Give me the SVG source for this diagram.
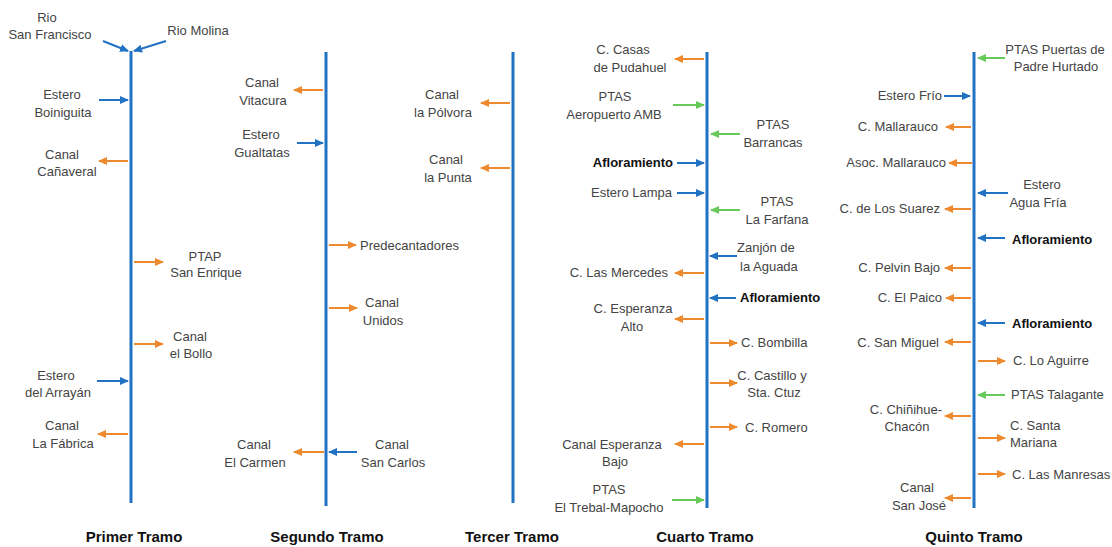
<svg xmlns="http://www.w3.org/2000/svg" width="1112" height="547" viewBox="0 0 1112 547">
<style>
.t{font-family:"Liberation Sans",Arial,sans-serif;font-size:13px;fill:#444}
.c{text-anchor:middle}
.e{text-anchor:end}
.b{font-weight:bold;fill:#111}
.h{font-family:"Liberation Sans",Arial,sans-serif;font-size:15px;font-weight:bold;fill:#111;text-anchor:middle}
.r{stroke:#2272c3;stroke-width:3;fill:none}
.ab{stroke:#2272c3;stroke-width:2;fill:none;marker-end:url(#mb)}
.ao{stroke:#ed8a2f;stroke-width:2;fill:none;marker-end:url(#mo)}
.ag{stroke:#66c95a;stroke-width:2;fill:none;marker-end:url(#mg)}
</style>
<defs>
<marker id="mb" markerUnits="userSpaceOnUse" markerWidth="9" markerHeight="8" refX="8" refY="4" orient="auto"><path d="M0,0 L9,4 L0,8 z" fill="#2272c3"/></marker>
<marker id="mo" markerUnits="userSpaceOnUse" markerWidth="9" markerHeight="8" refX="8" refY="4" orient="auto"><path d="M0,0 L9,4 L0,8 z" fill="#ed8a2f"/></marker>
<marker id="mg" markerUnits="userSpaceOnUse" markerWidth="9" markerHeight="8" refX="8" refY="4" orient="auto"><path d="M0,0 L9,4 L0,8 z" fill="#66c95a"/></marker>
</defs>
<rect width="1112" height="547" fill="#fff"/>

<g id="rivers">
<line class="r" x1="131" y1="51" x2="131" y2="503"/>
<line class="r" x1="326" y1="52" x2="326" y2="506"/>
<line class="r" x1="513" y1="52" x2="513" y2="503"/>
<line class="r" x1="707" y1="52" x2="707" y2="508"/>
<line class="r" x1="974" y1="52" x2="974" y2="508"/>
</g>

<g id="connectors">
<line class="ab" x1="103" y1="41" x2="128" y2="51"/>
<line class="ab" x1="166" y1="41" x2="134" y2="51"/>
<line class="ab" x1="99" y1="100" x2="128" y2="100"/>
<line class="ao" x1="128" y1="161" x2="99" y2="161"/>
<line class="ao" x1="134" y1="262" x2="163" y2="262"/>
<line class="ao" x1="134" y1="344" x2="163" y2="344"/>
<line class="ab" x1="97" y1="381" x2="128" y2="381"/>
<line class="ao" x1="128" y1="434" x2="98" y2="434"/>

<line class="ao" x1="323" y1="90" x2="294" y2="90"/>
<line class="ab" x1="297" y1="143" x2="323" y2="143"/>
<line class="ao" x1="329" y1="245" x2="356" y2="245"/>
<line class="ao" x1="329" y1="308" x2="357" y2="308"/>
<line class="ao" x1="324" y1="452" x2="294" y2="452"/>
<line class="ab" x1="357" y1="452" x2="329" y2="452"/>

<line class="ao" x1="510" y1="103" x2="481" y2="103"/>
<line class="ao" x1="510" y1="168" x2="481" y2="168"/>

<line class="ao" x1="704" y1="59" x2="675" y2="59"/>
<line class="ag" x1="673" y1="105" x2="704" y2="105"/>
<line class="ag" x1="740" y1="134" x2="711" y2="134"/>
<line class="ab" x1="677" y1="163" x2="704" y2="163"/>
<line class="ab" x1="677" y1="193" x2="704" y2="193"/>
<line class="ag" x1="740" y1="210" x2="711" y2="210"/>
<line class="ab" x1="737" y1="256" x2="710" y2="256"/>
<line class="ao" x1="704" y1="273" x2="675" y2="273"/>
<line class="ab" x1="736" y1="298" x2="710" y2="298"/>
<line class="ao" x1="704" y1="319" x2="675" y2="319"/>
<line class="ao" x1="710" y1="343" x2="737" y2="343"/>
<line class="ao" x1="710" y1="383" x2="737" y2="383"/>
<line class="ao" x1="710" y1="427" x2="737" y2="427"/>
<line class="ao" x1="704" y1="444" x2="675" y2="444"/>
<line class="ag" x1="672" y1="500" x2="704" y2="500"/>

<line class="ag" x1="1005" y1="58" x2="978" y2="58"/>
<line class="ab" x1="944" y1="96" x2="970" y2="96"/>
<line class="ao" x1="971" y1="127" x2="946" y2="127"/>
<line class="ao" x1="972" y1="163" x2="949" y2="163"/>
<line class="ab" x1="1008" y1="193" x2="978" y2="193"/>
<line class="ao" x1="971" y1="209" x2="945" y2="209"/>
<line class="ab" x1="1005" y1="238" x2="978" y2="238"/>
<line class="ao" x1="971" y1="268" x2="945" y2="268"/>
<line class="ao" x1="971" y1="298" x2="946" y2="298"/>
<line class="ab" x1="1005" y1="323" x2="978" y2="323"/>
<line class="ao" x1="971" y1="342" x2="945" y2="342"/>
<line class="ao" x1="978" y1="361" x2="1005" y2="361"/>
<line class="ag" x1="1005" y1="395" x2="978" y2="395"/>
<line class="ao" x1="971" y1="416" x2="945" y2="416"/>
<line class="ao" x1="978" y1="438" x2="1005" y2="438"/>
<line class="ao" x1="978" y1="474" x2="1005" y2="474"/>
<line class="ao" x1="971" y1="498" x2="945" y2="498"/>
</g>

<!-- Primer Tramo -->
<g id="rio-san-francisco"><text class="t c" x="47" y="22">Rio</text><text class="t c" x="50" y="39">San Francisco</text></g>
<g id="rio-molina"><text class="t c" x="198" y="35">Rio Molina</text></g>
<g id="estero-boiniguita"><text class="t c" x="62" y="99">Estero</text><text class="t c" x="63" y="117">Boiniguita</text></g>
<g id="canal-canaveral"><text class="t c" x="62" y="159">Canal</text><text class="t c" x="67" y="176">Cañaveral</text></g>
<g id="ptap-san-enrique"><text class="t c" x="205" y="261">PTAP</text><text class="t c" x="206" y="277">San Enrique</text></g>
<g id="canal-el-bollo"><text class="t c" x="190" y="341">Canal</text><text class="t c" x="191" y="358">el Bollo</text></g>
<g id="estero-del-arrayan"><text class="t c" x="56" y="380">Estero</text><text class="t c" x="58" y="397">del Arrayán</text></g>
<g id="canal-la-fabrica"><text class="t c" x="62" y="430">Canal</text><text class="t c" x="63" y="448">La Fábrica</text></g>
<g id="primer-tramo"><text class="h" x="134" y="542">Primer Tramo</text></g>

<!-- Segundo Tramo -->
<g id="canal-vitacura"><text class="t c" x="262" y="87">Canal</text><text class="t c" x="263" y="105">Vitacura</text></g>
<g id="estero-gualtatas"><text class="t c" x="261" y="139">Estero</text><text class="t c" x="262" y="157">Gualtatas</text></g>
<g id="predecantadores"><text class="t" x="360" y="250">Predecantadores</text></g>
<g id="canal-unidos"><text class="t c" x="382" y="307">Canal</text><text class="t c" x="383" y="325">Unidos</text></g>
<g id="canal-el-carmen"><text class="t c" x="254" y="449">Canal</text><text class="t c" x="255" y="467">El Carmen</text></g>
<g id="canal-san-carlos"><text class="t c" x="392" y="449">Canal</text><text class="t c" x="393" y="467">San Carlos</text></g>
<g id="segundo-tramo"><text class="h" x="327" y="542">Segundo Tramo</text></g>

<!-- Tercer Tramo -->
<g id="canal-la-polvora"><text class="t c" x="442" y="99">Canal</text><text class="t c" x="443" y="117">la Pólvora</text></g>
<g id="canal-la-punta"><text class="t c" x="446" y="164">Canal</text><text class="t c" x="448" y="182">la Punta</text></g>
<g id="tercer-tramo"><text class="h" x="512" y="542">Tercer Tramo</text></g>

<!-- Cuarto Tramo -->
<g id="c-casas-de-pudahuel"><text class="t c" x="623" y="54">C. Casas</text><text class="t c" x="630" y="72">de Pudahuel</text></g>
<g id="ptas-aeropuerto-amb"><text class="t c" x="615" y="101">PTAS</text><text class="t c" x="614" y="119">Aeropuerto AMB</text></g>
<g id="ptas-barrancas"><text class="t c" x="773" y="129">PTAS</text><text class="t c" x="773" y="147">Barrancas</text></g>
<g id="afloramiento-4a"><text class="t e b" x="673" y="167">Afloramiento</text></g>
<g id="estero-lampa"><text class="t e" x="672" y="197">Estero Lampa</text></g>
<g id="ptas-la-farfana"><text class="t c" x="777" y="206">PTAS</text><text class="t c" x="777" y="224">La Farfana</text></g>
<g id="zanjon-de-la-aguada"><text class="t" x="737" y="252">Zanjón de</text><text class="t" x="740" y="271">la Aguada</text></g>
<g id="c-las-mercedes"><text class="t e" x="668" y="277">C. Las Mercedes</text></g>
<g id="afloramiento-4b"><text class="t b" x="740" y="302">Afloramiento</text></g>
<g id="c-esperanza-alto"><text class="t c" x="633" y="313">C. Esperanza</text><text class="t c" x="632" y="331">Alto</text></g>
<g id="c-bombilla"><text class="t" x="741" y="347">C. Bombilla</text></g>
<g id="c-castillo-sta-ctuz"><text class="t c" x="772" y="380">C. Castillo y</text><text class="t c" x="774" y="397">Sta. Ctuz</text></g>
<g id="c-romero"><text class="t" x="745" y="432">C. Romero</text></g>
<g id="canal-esperanza-bajo"><text class="t c" x="612" y="449">Canal Esperanza</text><text class="t c" x="615" y="466">Bajo</text></g>
<g id="ptas-el-trebal-mapocho"><text class="t c" x="609" y="494">PTAS</text><text class="t c" x="609" y="512">El Trebal-Mapocho</text></g>
<g id="cuarto-tramo"><text class="h" x="705" y="542">Cuarto Tramo</text></g>

<!-- Quinto Tramo -->
<g id="ptas-puertas-de-padre-hurtado"><text class="t c" x="1055" y="54">PTAS Puertas de</text><text class="t c" x="1056" y="71">Padre Hurtado</text></g>
<g id="estero-frio"><text class="t e" x="942" y="100">Estero Frío</text></g>
<g id="c-mallarauco"><text class="t e" x="938" y="131">C. Mallarauco</text></g>
<g id="asoc-mallarauco"><text class="t e" x="946" y="167">Asoc. Mallarauco</text></g>
<g id="estero-agua-fria"><text class="t c" x="1042" y="189">Estero</text><text class="t c" x="1038" y="207">Agua Fría</text></g>
<g id="c-de-los-suarez"><text class="t e" x="940" y="213">C. de Los Suarez</text></g>
<g id="afloramiento-5a"><text class="t b" x="1012" y="244">Afloramiento</text></g>
<g id="c-pelvin-bajo"><text class="t e" x="940" y="272">C. Pelvin Bajo</text></g>
<g id="c-el-paico"><text class="t e" x="942" y="302">C. El Paico</text></g>
<g id="afloramiento-5b"><text class="t b" x="1012" y="328">Afloramiento</text></g>
<g id="c-san-miguel"><text class="t e" x="939" y="347">C. San Miguel</text></g>
<g id="c-lo-aguirre"><text class="t" x="1013" y="365">C. Lo Aguirre</text></g>
<g id="ptas-talagante"><text class="t" x="1011" y="399">PTAS Talagante</text></g>
<g id="c-chinihue-chacon"><text class="t c" x="906" y="414">C. Chiñihue-</text><text class="t c" x="907" y="431">Chacón</text></g>
<g id="c-santa-mariana"><text class="t" x="1010" y="430">C. Santa</text><text class="t" x="1010" y="447">Mariana</text></g>
<g id="c-las-manresas"><text class="t" x="1012" y="479">C. Las Manresas</text></g>
<g id="canal-san-jose"><text class="t c" x="917" y="492">Canal</text><text class="t c" x="919" y="510">San José</text></g>
<g id="quinto-tramo"><text class="h" x="974" y="542">Quinto Tramo</text></g>
</svg>
